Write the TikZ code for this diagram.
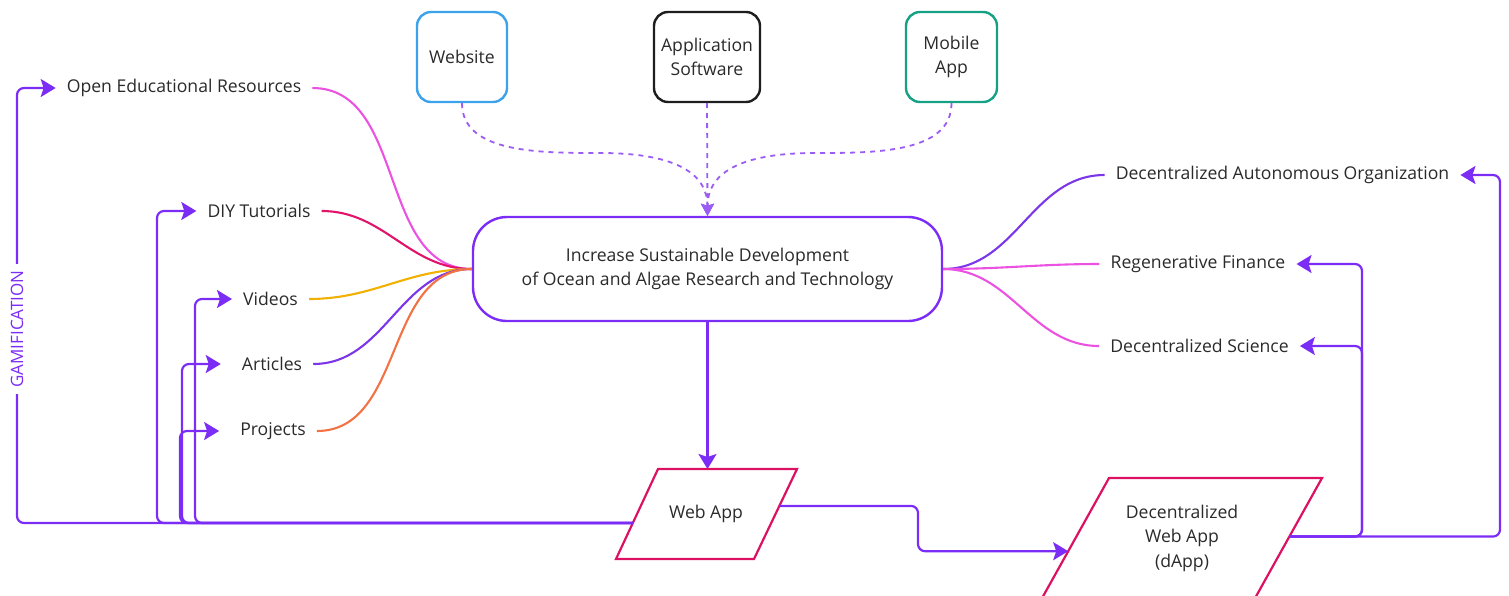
\documentclass[tikz,border=0pt]{standalone}
\usepackage{fontspec}
\setmainfont{Open Sans}
\usetikzlibrary{arrows.meta,calc}

\definecolor{cViolet}{HTML}{7B2CF5}
\definecolor{cDash}{HTML}{9A5CF3}
\definecolor{cText}{HTML}{2A2A2A}
\definecolor{cBlue}{HTML}{3DA2EC}
\definecolor{cTeal}{HTML}{17A184}
\definecolor{cBlack}{HTML}{1E1E1E}
\definecolor{cCrimson}{HTML}{DC1162}
\definecolor{cPink}{HTML}{EC52E2}
\definecolor{cRose}{HTML}{E2136A}
\definecolor{cAmber}{HTML}{F2B000}
\definecolor{cPurple}{HTML}{7B36EA}
\definecolor{cOrange}{HTML}{F27244}

\begin{document}
\begin{tikzpicture}[x=1pt,y=-1pt,
  txt/.style={font=\fontsize{17.6}{24.5}\selectfont, text=cText},
  lbl/.style={txt, inner xsep=11pt, inner ysep=4pt},
  topbox/.style={txt, draw, line width=2.4pt, rounded corners=14pt,
    minimum height=90pt, align=center, inner sep=1pt},
  goal/.style={txt, draw=cViolet, line width=2.4pt, rounded corners=34pt,
    minimum width=469pt, minimum height=104pt, align=center},
  paraline/.style={draw=cCrimson, line width=2.2pt, line join=miter},
  conn/.style={draw=cViolet, line width=2.2pt, rounded corners=7pt,
    -{Stealth[length=15pt,width=18pt,inset=3pt]}},
  feed/.style={draw=cDash, line width=1.8pt, dash pattern=on 5pt off 5pt,
    -{Stealth[length=12pt,width=13pt,inset=2pt]}},
  branch/.style={line width=2.1pt},
]
\useasboundingbox (0,0) rectangle (1509,595);

% delivery channels
\node[topbox, draw=cBlue, minimum width=90pt] (web) at (462,57) {Website};
\node[topbox, draw=cBlack, minimum width=106pt] (soft) at (707,57) {Application\\Software};
\node[topbox, draw=cTeal, minimum width=91pt] (mob) at (951.5,57) {Mobile\\App};

% central goal
\node[goal] (goal) at (707.5,269) {Increase Sustainable Development\\of Ocean and Algae Research and Technology};

% learning resources
\node[lbl] (oer) at (184,88) {Open Educational Resources};
\node[lbl] (diy) at (259,211) {DIY Tutorials};
\node[lbl] (vid) at (270.5,299) {Videos};
\node[lbl] (art) at (272,364) {Articles};
\node[lbl] (proj) at (273,431) {Projects};

% web3 outcomes
\node[lbl] (dao) at (1282.5,175) {Decentralized Autonomous Organization};
\node[lbl] (refi) at (1198,264) {Regenerative Finance};
\node[lbl] (desci) at (1199.5,346) {Decentralized Science};

% applications: parallelogram outlines with their labels
\coordinate (wa-tl) at (658,469);
\coordinate (wa-tr) at (797,469);
\coordinate (wa-br) at (754,559);
\coordinate (wa-bl) at (616,559);
\draw[paraline] (wa-tl) -- (wa-tr) -- (wa-br) -- (wa-bl) -- cycle;
\node[txt] (wapp) at (706,514) {Web App};

\coordinate (da-tl) at (1109,478);
\coordinate (da-tr) at (1322,478);
\coordinate (da-br) at (1254,600);
\coordinate (da-bl) at (1041,600);
\draw[paraline] (da-tl) -- (da-tr) -- (da-br) -- (da-bl) -- cycle;
\node[txt, align=center] (dapp) at (1182,538) {Decentralized\\Web App\\(dApp)};

\coordinate (wal) at ($(wa-bl)!0.4!(wa-tl)$);
\coordinate (war) at ($(wa-br)!0.59!(wa-tr)$);
\coordinate (dal) at ($(da-bl)!0.40!(da-tl)$);
\coordinate (dar) at ($(da-br)!0.52!(da-tr)$);

% channels feeding the goal
\draw[feed] (web.south) .. controls +(0,50) and +(-60,0) .. (600,153)
  .. controls +(80,0) and +(0,-40) .. (goal.north);
\draw[feed] (soft.south) -- (goal.north);
\draw[feed] (mob.south) .. controls +(0,50) and +(60,0) .. (815,153)
  .. controls +(-80,0) and +(0,-40) .. (goal.north);

% resources around the goal
\draw[branch, cPink] (oer.east) to[out=0,in=180] (goal.west);
\draw[branch, cRose] (diy.east) to[out=0,in=180] (goal.west);
\draw[branch, cAmber] (vid.east) to[out=0,in=180] (goal.west);
\draw[branch, cPurple] (art.east) to[out=0,in=180] (goal.west);
\draw[branch, cOrange] (proj.east) to[out=0,in=180] (goal.west);

\draw[branch, cPurple] (goal.east) to[out=0,in=180] (dao.west);
\draw[branch, cPink] (goal.east) to[out=0,in=180] (refi.west);
\draw[branch, cPink] (goal.east) to[out=0,in=180] (desci.west);

% goal to web app to dApp
\draw[conn] (goal.south) -- (goal.south |- wa-tl);
\draw[conn] (war) -| (918,530) |- (dal);

% gamification loop back to the resources
\draw[conn] (wal) -| (17,300) |- (oer.west);
\draw[conn] (wal) -| (157,300) |- (diy.west);
\draw[conn] (wal) -| (195,400) |- (vid.west);
\draw[conn, shorten >=10pt] (wal) -| (182,450) |- (art.west);
\draw[conn, shorten >=10pt] (wal) -| (180,480) |- (proj.west);
\node[font=\fontsize{17}{17}\selectfont, text=cViolet, fill=white, rotate=90,
  inner xsep=6pt, inner ysep=2pt] (gam) at (17,329) {GAMIFICATION};

% dApp to the web3 outcomes
\draw[conn] (dar) -| (1362,400) |- (refi.east);
\draw[conn] (dar) -| (1362,400) |- (desci.east);
\draw[conn] (dar) -| (1500,400) |- (dao.east);
\end{tikzpicture}
\end{document}
